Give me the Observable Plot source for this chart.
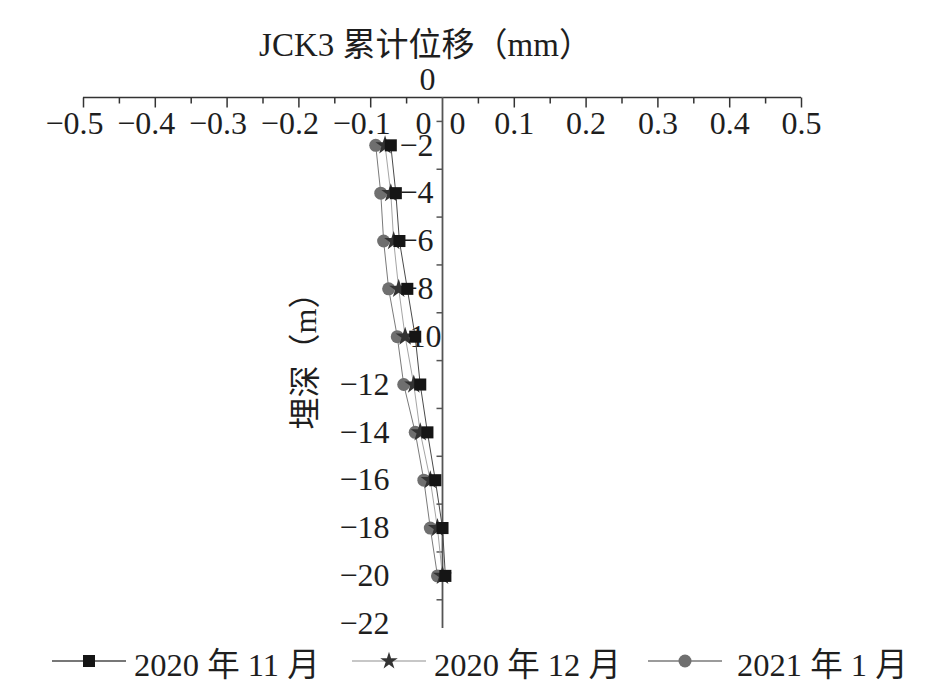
<!DOCTYPE html>
<html>
<head>
<meta charset="utf-8">
<script src="https://cdn.jsdelivr.net/npm/d3@7"></script>
<script src="https://cdn.jsdelivr.net/npm/@observablehq/plot@0.6"></script>
<style>
  html, body { margin: 0; padding: 0; background: #fff; }
  #wrap { width: 938px; height: 699px; position: relative; overflow: hidden; }
  #legend { position: relative; height: 59px; font-family: "Liberation Serif", "Noto Sans CJK SC", serif; font-size: 32.5px; color: #1e1e1e; }
  .item { position: absolute; top: 2px; display: flex; align-items: center; height: 38px; white-space: nowrap; }
</style>
</head>
<body>
<div id="wrap"><div id="chart"></div><div id="legend"></div></div>
<script>
// ---- data ----
const depths = [-2, -4, -6, -8, -10, -12, -14, -16, -18, -20];
const nov2020 = [-0.072, -0.065, -0.060, -0.049, -0.038, -0.031, -0.021, -0.010, 0.000, 0.004];
const dec2020 = [-0.080, -0.072, -0.068, -0.061, -0.052, -0.040, -0.031, -0.017, -0.007, 0.000];
const jan2021 = [-0.093, -0.086, -0.082, -0.075, -0.063, -0.054, -0.038, -0.026, -0.017, -0.007];
const seriesNames = ["2020 年 11 月", "2020 年 12 月", "2021 年 1 月"];
const xTickLabels = [-0.5, -0.4, -0.3, -0.2, -0.1, 0.1, 0.2, 0.3, 0.4, 0.5];
const xMinorTicks = [-0.45, -0.35, -0.25, -0.15, -0.05, 0.05, 0.15, 0.25, 0.35, 0.45];
const yLabelsUpper = [-2, -4, -6, -8, -10];
const yLabelsLower = [-12, -14, -16, -18, -20, -22];
const yMinorTicks = [-1, -3, -5, -7, -9, -11, -13, -15, -17, -19, -21];
const xTitle = "JCK3 累计位移（mm）";
const yTitle = "埋深（m）";

const toRows = (vals, name) => depths.map((d, i) => ({x: vals[i], y: d, s: name}));
const rowsNov = toRows(nov2020, seriesNames[0]);
const rowsDec = toRows(dec2020, seriesNames[1]);
const rowsJan = toRows(jan2021, seriesNames[2]);

const fmt = v => (v < 0 ? "\u2212" : "") + Math.abs(v).toString();

// custom tick symbols (length = r)
const tickDown = {draw(ctx, size) { const l = Math.sqrt(size / Math.PI); ctx.moveTo(0, 0); ctx.lineTo(0, l); }};
const tickLeft = {draw(ctx, size) { const l = Math.sqrt(size / Math.PI); ctx.moveTo(0, 0); ctx.lineTo(-l, 0); }};

const axisColor = "#333";
const textColor = "#1e1e1e";
const colNov = "#151515", colDec = "#333333", colJan = "#6f6f6f";
const lineNov = "#4a4a4a", lineDec = "#a5a5a5", lineJan = "#7a7a7a";
const fs = 32;

const chart = Plot.plot({
  width: 938,
  height: 640,
  marginLeft: 83,
  marginRight: 137,
  marginTop: 97,
  marginBottom: 12,
  x: {domain: [-0.5, 0.5], axis: null},
  y: {domain: [-22.2, 0], axis: null},
  style: {fontFamily: "'Liberation Serif', 'Noto Sans CJK SC', serif", background: "#fff", color: textColor},
  marks: [
    // axes lines
    Plot.ruleY([0], {stroke: axisColor, strokeWidth: 1.5}),
    Plot.ruleX([0], {stroke: "#555", strokeWidth: 1.8}),
    // x ticks
    Plot.dot(xTickLabels, {x: d => d, y: 0, symbol: tickDown, r: 10, stroke: axisColor, strokeWidth: 1.5, fill: "none"}),
    Plot.dot(xMinorTicks, {x: d => d, y: 0, symbol: tickDown, r: 6, stroke: axisColor, strokeWidth: 1.5, fill: "none"}),
    // y ticks
    Plot.dot(yMinorTicks, {x: 0, y: d => d, symbol: tickLeft, r: 6, stroke: "#555", strokeWidth: 1.5, fill: "none"}),
    // x tick labels (number part centred on tick, minus hanging left)
    Plot.text(xTickLabels, {x: d => d, y: 0, dx: 20, dy: 26, textAnchor: "end", text: fmt, fontSize: fs, fill: textColor}),
    Plot.text([0], {x: d => d, y: 0, dx: -11, dy: 26, textAnchor: "end", text: d => "0", fontSize: fs, fill: textColor}),
    Plot.text([0], {x: d => d, y: 0, dx: 23, dy: 26, textAnchor: "end", text: d => "0", fontSize: fs, fill: textColor}),
    Plot.text([0], {x: d => d, y: 0, dx: -15, dy: -18, text: d => "0", fontSize: fs, fill: textColor}),
    // y tick labels
    Plot.text(yLabelsUpper, {x: 0, y: d => d, dx: -26, text: fmt, fontSize: fs, fill: textColor}),
    Plot.text(yLabelsLower, {x: 0, y: d => d, dx: -78, text: fmt, fontSize: fs, fill: textColor}),
    // titles
    Plot.text([xTitle], {frameAnchor: "top", dx: -17, dy: -52, lineAnchor: "middle", textAnchor: "middle", fontSize: 33, fill: textColor}),
    Plot.text([yTitle], {frameAnchor: "left", rotate: -90, dx: 222, dy: -10, lineAnchor: "middle", textAnchor: "middle", fontSize: 32, fill: textColor}),
    // series lines
    Plot.line(rowsJan, {x: "x", y: "y", stroke: lineJan, strokeWidth: 1}),
    Plot.line(rowsDec, {x: "x", y: "y", stroke: lineDec, strokeWidth: 1}),
    Plot.line(rowsNov, {x: "x", y: "y", stroke: lineNov, strokeWidth: 1}),
    // markers
    Plot.dot(rowsJan, {x: "x", y: "y", symbol: "circle", r: 6.5, fill: colJan}),
    Plot.dot(rowsDec, {x: "x", y: "y", symbol: "star", r: 6, fill: colDec}),
    Plot.dot(rowsNov, {x: "x", y: "y", symbol: "square", r: 6.8, fill: colNov})
  ]
});
document.getElementById("chart").appendChild(chart);

// legend
const legend = document.getElementById("legend");
const swatches = [
  {left: 52, gap: 8, line: lineNov, fill: colNov, sym: d3.symbolSquare, size: 6.8 * 6.8 * Math.PI},
  {left: 352, gap: 8, line: "#b5b5b5", fill: colDec, sym: d3.symbolStar, size: 5.5 * 5.5 * Math.PI},
  {left: 648, gap: 15, line: lineJan, fill: colJan, sym: d3.symbolCircle, size: 6.5 * 6.5 * Math.PI}
];
swatches.forEach((sw, i) => {
  const item = document.createElement("div");
  item.className = "item";
  item.style.left = sw.left + "px";
  const path = d3.symbol(sw.sym, sw.size)();
  item.innerHTML = `<svg width="74" height="30" viewBox="0 0 74 30" style="margin-right:${sw.gap}px"><line x1="0" y1="15" x2="74" y2="15" stroke="${sw.line}" stroke-width="1.5"/><path d="${path}" transform="translate(37,15)" fill="${sw.fill}"/></svg><span>${seriesNames[i]}</span>`;
  legend.appendChild(item);
});
</script>
</body>
</html>
